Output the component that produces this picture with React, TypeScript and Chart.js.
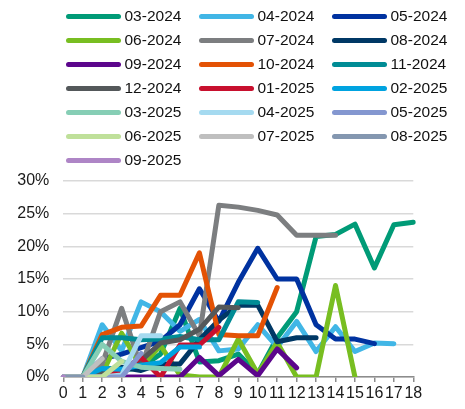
import React, { useEffect, useRef } from "react";
import { Chart, registerables } from "chart.js";

Chart.register(...registerables);

// Months since cohort start (x-axis categories)
const monthLabels = ["0","1","2","3","4","5","6","7","8","9","10","11","12","13","14","15","16","17","18"];

// Y tick values (percent)
const yTicks = [0, 5, 10, 15, 20, 25, 30];

const seriesNames = [
  "03-2024","04-2024","05-2024","06-2024","07-2024","08-2024","09-2024",
  "10-2024","11-2024","12-2024","01-2025","02-2025","03-2025","04-2025",
  "05-2025","06-2025","07-2025","08-2025","09-2025",
];

const seriesColors = [
  "#009B77","#41B6E6","#0032A0","#78BE21","#7C7E80","#003865","#5C068C",
  "#E35205","#008C95","#54585A","#C8102E","#00A3E0","#86CEB5","#A5DAF0",
  "#8497D0","#BFE09A","#BFBFBF","#8497B0","#AE85C6",
];

// Values in percent
const s0324 = [0,0,1.5,1,1.5,3.5,10.5,2.3,2.5,3.5,0.5,6,10,21.5,21.8,23.4,16.7,23.3,23.7];
const s0424 = [0,0,8,4,11.5,10,7,8.8,4,4.3,8,4.6,8.5,3.9,7.7,3.9,5.2,5.1];
const s0524 = [0,0,2.8,3.5,4.5,5.5,8,13.5,8.5,14.5,19.7,15,15,8,5.8,5.8,5.1];
const s0624 = [0,0,0.5,6.7,1.5,4.8,0.3,0,0,5.8,0.5,5.3,0,0,14,0];
const s0724 = [0,0,2,10.5,1.5,10,11.5,6.3,26.3,26,25.5,24.8,21.7,21.7,21.7];
const s0824 = [0,0,1,1.5,1,2,2,5.7,8.7,11,11,5.4,6,6];
const s0924 = [0,0,0,0,0,0,0,3,0.2,2.7,0.2,4.3,1.4];
const s1024 = [0,0,6.5,7.6,7.8,12.5,12.5,19,6.5,6.3,6.3,13.7];
const s1124 = [0,0,6,6,5.7,5.8,6.2,5.7,5.7,11.5,11.4];
const s1224 = [0,0,0.5,1,2.5,5.2,5.7,7.3,10.7,10.6];
const s0125 = [0,0,0,1,3,0,4.9,4.9,7.6];
const s0225 = [0,0,1.3,1.2,1.8,2.2,4.6,4.6];
const s0325 = [0,0,5,2.4,1.5,1.3,1.2];
const s0425 = [0,0,0,0.3,6.3,6.3];
const s0525 = [0,0,0,0,3.6];
const s0625 = [0,0,0,2.4];
const s0725 = [0,0,2.8];
const s0825 = [0,0];
const s0925 = [0];

const seriesValues = [
  s0324,s0424,s0524,s0624,s0724,s0824,s0924,s1024,s1124,s1224,
  s0125,s0225,s0325,s0425,s0525,s0625,s0725,s0825,s0925,
];

const FONT = "'Liberation Sans', Arial, sans-serif";

export default function App() {
  const canvasRef = useRef<HTMLCanvasElement | null>(null);

  useEffect(() => {
    if (!canvasRef.current) return;
    const chart = new Chart(canvasRef.current, {
      type: "line",
      data: {
        labels: monthLabels,
        datasets: seriesNames.map((name, i) => ({
          label: name,
          data: seriesValues[i],
          borderColor: seriesColors[i],
          backgroundColor: seriesColors[i],
          borderWidth: 5,
          pointRadius: 0,
          pointHoverRadius: 0,
          tension: 0,
          fill: false,
          order: -i,
          borderCapStyle: "round",
          borderJoinStyle: "round",
        })),
      },
      options: {
        animation: false,
        responsive: true,
        maintainAspectRatio: false,
        events: [],
        layout: { padding: { top: 181, right: 51.7, left: 0, bottom: 0 } },
        plugins: {
          legend: { display: false },
          tooltip: { enabled: false },
        },
        scales: {
          x: {
            type: "category",
            offset: false,
            grid: {
              display: true,
              drawOnChartArea: false,
              drawTicks: true,
              tickLength: 5,
              color: "#8c8c8c",
              lineWidth: 1.5,
            },
            border: { display: true, color: "#8c8c8c", width: 1.5 },
            ticks: {
              font: { size: 16, family: FONT },
              color: "#1a1a1a",
              padding: 2,
              maxRotation: 0,
              autoSkip: false,
            },
            afterFit: (s: any) => {
              s.height = 32;
            },
          },
          y: {
            min: yTicks[0],
            max: yTicks[yTicks.length - 1],
            afterBuildTicks: (s: any) => {
              s.ticks = yTicks.map((v) => ({ value: v }));
            },
            ticks: {
              stepSize: 5,
              callback: (v: any) => v + "%",
              font: { size: 16, family: FONT },
              color: "#1a1a1a",
              padding: 14,
            },
            grid: { color: "#d9d9d9", lineWidth: 1.5, drawTicks: false },
            border: { display: false },
            afterFit: (s: any) => {
              s.width = 63.3;
            },
          },
        },
      },
    });
    return () => chart.destroy();
  }, []);

  return (
    <div
      style={{
        position: "fixed",
        left: 0,
        top: 0,
        width: 465,
        height: 409,
        background: "#fff",
      }}
    >
      <canvas ref={canvasRef} style={{ position: "absolute", left: 0, top: 0 }} />
      <div
        style={{
          position: "absolute",
          left: 66,
          top: 4,
          display: "grid",
          gridTemplateColumns: "133px 133px 133px",
          gridAutoRows: "24px",
          fontFamily: FONT,
          fontSize: 15.5,
          color: "#111",
        }}
      >
        {seriesNames.map((name, i) => (
          <div key={name} style={{ display: "flex", alignItems: "center", whiteSpace: "nowrap" }}>
            <span
              style={{
                display: "inline-block",
                width: 55,
                height: 5,
                borderRadius: 2.5,
                background: seriesColors[i],
                marginRight: 3.5,
              }}
            />
            <span>{name}</span>
          </div>
        ))}
      </div>
    </div>
  );
}
